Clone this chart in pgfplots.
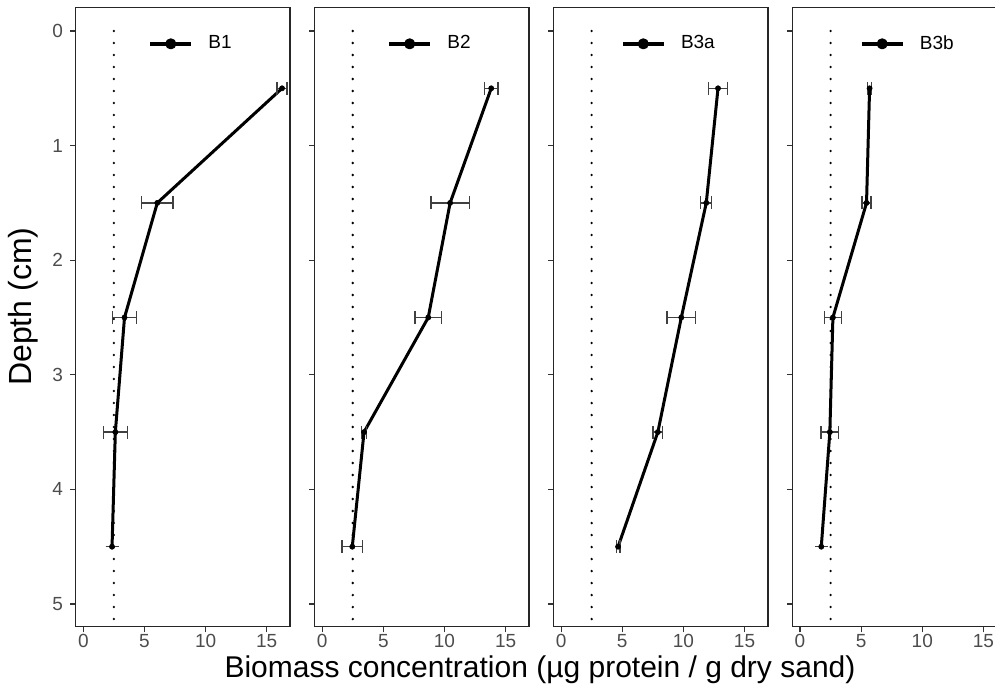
\documentclass[border=0pt]{standalone}
\usepackage{fontspec}
\setmainfont{Liberation Sans}
\usepackage{pgfplots}
\pgfplotsset{compat=1.18}

\pgfplotsset{
  panel/.style={
    scale only axis, width=107.2pt, height=309.7pt, anchor=south west,
    xmin=-0.621, xmax=16.91, ymin=-0.207, ymax=5.198, y dir=reverse,
    xtick={0,5,10,15}, ytick={0,1,2,3,4,5},
    tick align=outside, xtick pos=lower, xticklabel pos=lower, ytick pos=left,
    major tick length=2.8pt,
    every tick/.style={black!80, line width=0.6pt},
    axis line style={black!85, line width=0.75pt},
    tick label style={font=\fontsize{9.5}{11}\selectfont, text=black!70},
    /pgf/number format/assume math mode=true,
    xticklabel style={inner ysep=1pt},
    legend style={draw=none, fill=none, inner sep=0pt, outer sep=0pt,
      font=\fontsize{9.5}{11}\selectfont, nodes={inner sep=0pt}, column sep=7.6pt, anchor=west},
    legend image code/.code={
      \draw[line width=2pt, black] (0pt,0pt) -- (20.5pt,0pt);
      \fill[black] (10.25pt,0pt) circle (2pt);
    },
  },
  refline/.style={forget plot, black, line width=1.3pt, line cap=round, dash pattern=on 0pt off 6pt},
  dataline/.style={black, line width=1.5pt, line join=round, mark=*, mark size=1.3pt,
    mark options={solid, line width=0.3pt},
    error bars/.cd, x dir=both, x explicit,
    error bar style={line width=0.65pt, black!75},
    error mark options={line width=0.65pt, black!75, mark size=3.25pt, rotate=90}},
}

\begin{document}
\begin{tikzpicture}
\path[use as bounding box] (0pt,0pt) rectangle (497.5pt,344pt);

% Panel B1
\begin{axis}[panel, at={(37.85pt,30.65pt)}, legend style={at={(rel axis cs:0.3386,0.941)}}]
\addplot[refline] coordinates {(2.5,0) (2.5,5.4)};
\addplot[dataline] coordinates {
  (16.25,0.5) +- (0.41,0)
  (6.05,1.5) +- (1.29,0)
  (3.37,2.5) +- (0.97,0)
  (2.62,3.5) +- (0.99,0)
  (2.35,4.5) +- (0,0)
};
\addlegendentry{B1}
\end{axis}

% Panel B2
\begin{axis}[panel, at={(157.3pt,30.65pt)}, yticklabels={}, legend style={at={(rel axis cs:0.3386,0.941)}}]
\addplot[refline] coordinates {(2.5,0) (2.5,5.4)};
\addplot[dataline] coordinates {
  (13.82,0.5) +- (0.55,0)
  (10.46,1.5) +- (1.56,0)
  (8.67,2.5) +- (1.08,0)
  (3.42,3.5) +- (0.2,0)
  (2.46,4.5) +- (0.85,0)
};
\addlegendentry{B2}
\end{axis}

% Panel B3a
\begin{axis}[panel, at={(276.75pt,30.65pt)}, yticklabels={}, legend style={at={(rel axis cs:0.3139,0.941)}}]
\addplot[refline] coordinates {(2.5,0) (2.5,5.4)};
\addplot[dataline] coordinates {
  (12.83,0.5) +- (0.76,0)
  (11.87,1.5) +- (0.45,0)
  (9.83,2.5) +- (1.18,0)
  (7.91,3.5) +- (0.4,0)
  (4.66,4.5) +- (0.15,0)
};
\addlegendentry{B3a}
\end{axis}

% Panel B3b
\begin{axis}[panel, at={(396.2pt,30.65pt)}, yticklabels={}, legend style={at={(rel axis cs:0.3139,0.941)}}]
\addplot[refline] coordinates {(2.5,0) (2.5,5.4)};
\addplot[dataline] coordinates {
  (5.69,0.5) +- (0.15,0)
  (5.44,1.5) +- (0.36,0)
  (2.69,2.5) +- (0.71,0)
  (2.44,3.5) +- (0.72,0)
  (1.74,4.5) +- (0,0)
};
\addlegendentry{B3b}
\end{axis}

\node[anchor=base, font=\fontsize{15}{18}\selectfont, text=black] at (270pt,5pt)
  {Biomass concentration (µg protein / g dry sand)};
\node[rotate=90, anchor=center, font=\fontsize{16}{19}\selectfont, text=black] at (11.5pt,190.65pt)
  {Depth (cm)};
\end{tikzpicture}
\end{document}
